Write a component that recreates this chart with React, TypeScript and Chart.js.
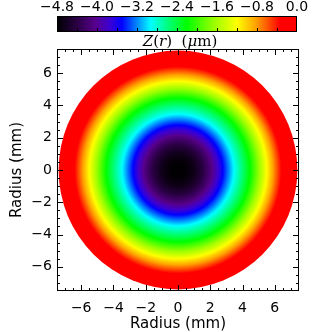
import React, { useEffect, useRef } from "react";
import { Chart, registerables } from "chart.js";

Chart.register(...registerables);

// Radial surface profile Z(r)
const RADII_MM = [0, 0.5, 1.0, 1.5, 2.0, 2.5, 3.0, 3.5, 4.0, 4.5, 5.0, 5.5, 6.0, 6.5, 7.0, 7.4];
const Z_UM = [-4.8, -4.77, -4.66, -4.44, -4.14, -3.74, -3.32, -2.9, -2.55, -2.17, -1.7, -1.2, -0.72, -0.25, 0.0, 0.0];
const DISK_RADIUS_MM = 7.4;

// Axes
const AXIS_MIN = -7.5;
const AXIS_MAX = 7.5;
const AXIS_TICKS = [-6, -4, -2, 0, 2, 4, 6];
const AXIS_MINOR_STEP = 0.5;

// Colour bar
const Z_MIN = -4.8;
const Z_MAX = 0.0;
const CB_TICKS = [-4.8, -4.0, -3.2, -2.4, -1.6, -0.8, 0.0];
const CB_MINOR_STEP = 0.4;

// Rainbow colour table: [fraction, r, g, b]
const CMAP_STOPS: number[][] = [
  [0.0, 0, 0, 0],
  [0.08, 40, 0, 65],
  [0.16, 88, 0, 140],
  [0.22, 60, 0, 210],
  [0.27, 0, 0, 255],
  [0.33, 0, 128, 255],
  [0.39, 0, 255, 255],
  [0.46, 0, 255, 128],
  [0.54, 0, 255, 0],
  [0.65, 150, 255, 0],
  [0.75, 255, 255, 0],
  [0.83, 255, 160, 0],
  [0.88, 255, 80, 0],
  [0.93, 255, 0, 0],
  [1.0, 255, 0, 0],
];

function cmap(z: number): string {
  let f = (z - Z_MIN) / (Z_MAX - Z_MIN);
  f = Math.max(0, Math.min(1, f));
  for (let i = 1; i < CMAP_STOPS.length; i++) {
    const a = CMAP_STOPS[i - 1];
    const b = CMAP_STOPS[i];
    if (f <= b[0]) {
      const t = (f - a[0]) / (b[0] - a[0] || 1);
      const r = Math.round(a[1] + (b[1] - a[1]) * t);
      const g = Math.round(a[2] + (b[2] - a[2]) * t);
      const bl = Math.round(a[3] + (b[3] - a[3]) * t);
      return `rgb(${r},${g},${bl})`;
    }
  }
  return "rgb(255,0,0)";
}

function zAt(r: number): number {
  if (r <= RADII_MM[0]) return Z_UM[0];
  for (let i = 1; i < RADII_MM.length; i++) {
    if (r <= RADII_MM[i]) {
      const t = (r - RADII_MM[i - 1]) / (RADII_MM[i] - RADII_MM[i - 1]);
      return Z_UM[i - 1] + (Z_UM[i] - Z_UM[i - 1]) * t;
    }
  }
  return Z_UM[Z_UM.length - 1];
}

function diskRadiusPx(chart: any): number {
  const xs = chart.scales?.x;
  if (!xs) return 0;
  const r = xs.getPixelForValue(DISK_RADIUS_MM) - xs.getPixelForValue(0);
  return isFinite(r) && r > 0 ? r : 0;
}

function diskFill(chart: any): any {
  const xs = chart.scales?.x;
  const ys = chart.scales?.y;
  if (!xs || !ys) return "transparent";
  const cx = xs.getPixelForValue(0);
  const cy = ys.getPixelForValue(0);
  const rr = xs.getPixelForValue(DISK_RADIUS_MM) - cx;
  if (!isFinite(cx) || !isFinite(cy) || !(rr > 0)) return "transparent";
  const g = chart.ctx.createRadialGradient(cx, cy, 0, cx, cy, rr);
  const N = 240;
  for (let i = 0; i <= N; i++) {
    g.addColorStop(i / N, cmap(zAt((DISK_RADIUS_MM * i) / N)));
  }
  return g;
}

const fmt = (v: number, d: number) => {
  const s = Math.abs(v).toFixed(d);
  return v < -1e-9 ? "\u2212" + s : s;
};

const framePlugin = {
  id: "frameTicks",
  afterDatasetsDraw(chart: any) {
    const { ctx, chartArea } = chart;
    const xs = chart.scales.x;
    const ys = chart.scales.y;
    const { left, right, top, bottom } = chartArea;
    ctx.save();
    ctx.strokeStyle = "#000";
    ctx.lineWidth = 1;
    ctx.strokeRect(Math.round(left) + 0.5, Math.round(top) + 0.5, Math.round(right - left) - 1, Math.round(bottom - top) - 1);
    ctx.beginPath();
    const isMajor = (v: number) => AXIS_TICKS.some((t) => Math.abs(t - v) < 1e-6);
    for (let v = AXIS_MIN + AXIS_MINOR_STEP; v < AXIS_MAX - 1e-6; v += AXIS_MINOR_STEP) {
      const len = isMajor(v) ? 6 : 3;
      const px = Math.round(xs.getPixelForValue(v)) + 0.5;
      ctx.moveTo(px, bottom);
      ctx.lineTo(px, bottom - len);
      ctx.moveTo(px, top);
      ctx.lineTo(px, top + len);
      const py = Math.round(ys.getPixelForValue(v)) + 0.5;
      ctx.moveTo(left, py);
      ctx.lineTo(left + len, py);
      ctx.moveTo(right, py);
      ctx.lineTo(right - len, py);
    }
    ctx.stroke();
    ctx.restore();
  },
  afterDraw(chart: any) {
    const { ctx, chartArea } = chart;
    const cbLeft = Math.round(chartArea.left);
    const cbRight = Math.round(chartArea.right) - 2;
    const cbTop = 16;
    const cbBottom = 32;
    const toX = (z: number) => cbLeft + ((z - Z_MIN) / (Z_MAX - Z_MIN)) * (cbRight - cbLeft);
    ctx.save();
    const grad = ctx.createLinearGradient(cbLeft, 0, cbRight, 0);
    for (const s of CMAP_STOPS) {
      grad.addColorStop(s[0], `rgb(${s[1]},${s[2]},${s[3]})`);
    }
    ctx.fillStyle = grad;
    ctx.fillRect(cbLeft, cbTop, cbRight - cbLeft, cbBottom - cbTop);
    ctx.strokeStyle = "#000";
    ctx.lineWidth = 1;
    ctx.strokeRect(cbLeft + 0.5, cbTop + 0.5, cbRight - cbLeft - 1, cbBottom - cbTop - 1);
    ctx.beginPath();
    for (let z = Z_MIN + CB_MINOR_STEP; z < Z_MAX - 1e-6; z += CB_MINOR_STEP) {
      const px = Math.round(toX(z)) + 0.5;
      ctx.moveTo(px, cbBottom);
      ctx.lineTo(px, cbBottom - 4);
    }
    ctx.stroke();
    ctx.fillStyle = "#000";
    ctx.font = "14px 'DejaVu Sans'";
    ctx.textAlign = "center";
    ctx.textBaseline = "alphabetic";
    for (const z of CB_TICKS) {
      ctx.fillText(fmt(z, 1), toX(z), 11);
    }
    // Colour-bar title: Z(r)  (μm)
    const parts: [string, boolean][] = [
      ["Z", true],
      ["(", false],
      ["r", true],
      [")", false],
      ["  (", false],
      ["\u03bc", true],
      ["m)", false],
    ];
    const fontFor = (it: boolean) => (it ? "italic 15px 'DejaVu Serif'" : "15px 'DejaVu Serif'");
    let total = 0;
    for (const [t, it] of parts) {
      ctx.font = fontFor(it);
      total += ctx.measureText(t).width;
    }
    let x = (cbLeft + cbRight) / 2 + 3 - total / 2;
    ctx.textAlign = "left";
    for (const [t, it] of parts) {
      ctx.font = fontFor(it);
      ctx.fillText(t, x, 46);
      x += ctx.measureText(t).width;
    }
    ctx.restore();
  },
};

export default function App() {
  const canvasRef = useRef<HTMLCanvasElement | null>(null);

  useEffect(() => {
    const canvas = canvasRef.current;
    if (!canvas) return;
    const tickFont = { family: "DejaVu Sans", size: 14 };
    const chart = new Chart(canvas, {
      type: "scatter",
      data: {
        datasets: [
          {
            label: "Z(r)",
            data: [{ x: 0, y: 0 }],
            showLine: false,
            pointRadius: (ctx: any) => diskRadiusPx(ctx.chart),
            pointHoverRadius: (ctx: any) => diskRadiusPx(ctx.chart),
            pointBorderWidth: 0,
            pointHoverBorderWidth: 0,
            pointBackgroundColor: (ctx: any) => diskFill(ctx.chart),
            pointHoverBackgroundColor: (ctx: any) => diskFill(ctx.chart),
            pointBorderColor: "transparent",
          } as any,
        ],
      },
      options: {
        animation: false,
        responsive: false,
        devicePixelRatio: 1,
        events: [],
        layout: { autoPadding: false, padding: { top: 49, right: 33, left: 0, bottom: 0 } },
        plugins: {
          legend: { display: false },
          tooltip: { enabled: false },
          title: { display: false },
        },
        scales: {
          x: {
            type: "linear",
            min: AXIS_MIN,
            max: AXIS_MAX,
            grid: { display: false, drawTicks: false },
            border: { display: false },
            afterBuildTicks: (s: any) => {
              s.ticks = AXIS_TICKS.map((v) => ({ value: v }));
            },
            afterFit: (s: any) => {
              s.height = 41;
            },
            ticks: {
              color: "#000",
              font: tickFont,
              padding: 9,
              maxRotation: 0,
              autoSkip: false,
              callback: (v: any) => fmt(Number(v), 0),
            },
            title: {
              display: true,
              text: "Radius (mm)",
              color: "#000",
              font: { family: "DejaVu Sans", size: 15, lineHeight: 1.0 },
              padding: { top: 0, bottom: 0 },
            },
          },
          y: {
            type: "linear",
            min: AXIS_MIN,
            max: AXIS_MAX,
            grid: { display: false, drawTicks: false },
            border: { display: false },
            afterBuildTicks: (s: any) => {
              s.ticks = AXIS_TICKS.map((v) => ({ value: v }));
            },
            afterFit: (s: any) => {
              s.width = 57;
            },
            ticks: {
              color: "#000",
              font: tickFont,
              padding: 5,
              autoSkip: false,
              callback: (v: any) => fmt(Number(v), 0),
            },
            title: {
              display: true,
              text: "Radius (mm)",
              color: "#000",
              font: { family: "DejaVu Sans", size: 15 },
              padding: { top: 8, bottom: 0 },
            },
          },
        },
      },
      plugins: [framePlugin],
    });
    return () => chart.destroy();
  }, []);

  return (
    <div style={{ position: "fixed", left: 0, top: 0, width: 332, height: 332, background: "#fff" }}>
      <canvas ref={canvasRef} width={332} height={332} style={{ display: "block" }} />
    </div>
  );
}
